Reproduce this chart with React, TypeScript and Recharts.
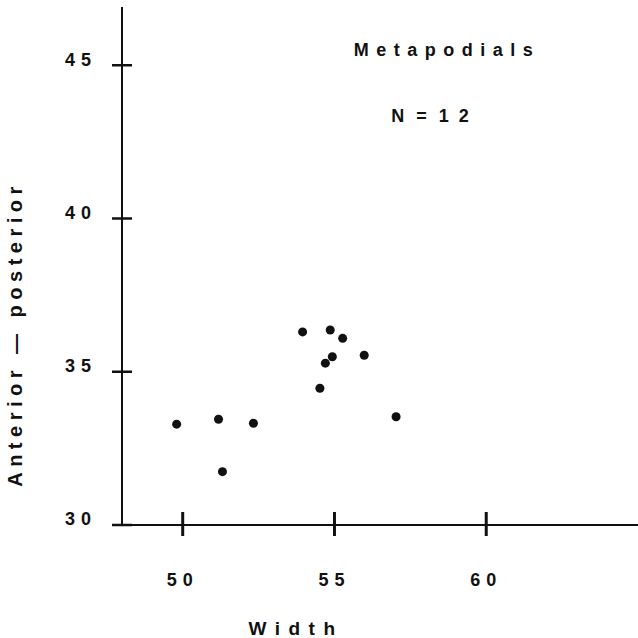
// App.tsx — metapodial measurements scatter (width vs anterior-posterior)

import { ScatterChart, Scatter, XAxis, YAxis } from "recharts";

const widths = [49.8, 51.18, 51.31, 52.33, 53.95, 54.86, 55.27, 54.93, 54.7, 54.52, 55.98, 57.03];
const apDepths = [33.29, 33.45, 31.74, 33.32, 36.3, 36.36, 36.09, 35.49, 35.28, 34.46, 35.54, 33.53];
const xTicks = [50, 55, 60];
const yTicks = [30, 35, 40, 45];

const points = widths.map((w, i) => ({ width: w, ap: apDepths[i] }));

const INK = "#111";
const FONT = "'Liberation Sans', Arial, sans-serif";

const YTick = (props: { x?: number; y?: number; payload?: { value: number } }) => {
  const { x = 0, y = 0, payload } = props;
  return (
    <g>
      <line x1={x - 10} x2={x + 10} y1={y} y2={y} stroke={INK} strokeWidth={2.5} />
      <text
        x={x - 25}
        y={y - 6}
        dy="0.36em"
        textAnchor="end"
        fill={INK}
        fontFamily={FONT}
        fontWeight="bold"
        fontSize={18}
        letterSpacing={6}
      >
        {payload?.value}
      </text>
    </g>
  );
};

const XTick = (props: { x?: number; y?: number; payload?: { value: number } }) => {
  const { x = 0, y = 0, payload } = props;
  return (
    <g>
      <line x1={x} x2={x} y1={y - 13} y2={y + 11} stroke={INK} strokeWidth={3} />
      <text
        x={x}
        y={y + 55}
        dy="0.36em"
        textAnchor="middle"
        fill={INK}
        fontFamily={FONT}
        fontWeight="bold"
        fontSize={18}
        letterSpacing={6}
      >
        {payload?.value}
      </text>
    </g>
  );
};

export default function App() {
  return (
    <div style={{ position: "absolute", left: 0, top: 0, width: 638, height: 638, background: "#fff" }}>
      <ScatterChart width={638} height={638} margin={{ top: 7, right: 0, bottom: 73, left: 62 }}>
        <XAxis
          type="number"
          dataKey="width"
          domain={[48, 65]}
          ticks={xTicks}
          height={40}
          tickSize={0}
          tickMargin={0}
          tickLine={false}
          axisLine={{ stroke: INK, strokeWidth: 2 }}
          tick={<XTick />}
          interval={0}
          allowDataOverflow
        />
        <YAxis
          type="number"
          dataKey="ap"
          domain={[30, 46.9]}
          ticks={yTicks}
          width={60}
          tickSize={0}
          tickMargin={0}
          tickLine={false}
          axisLine={{ stroke: INK, strokeWidth: 2 }}
          tick={<YTick />}
          interval={0}
          allowDataOverflow
        />
        <Scatter data={points} fill={INK} shape="circle" isAnimationActive={false} />
      </ScatterChart>

      {/* titles and axis names */}
      <div
        style={{
          position: "absolute",
          left: 447,
          top: 50,
          transform: "translate(-50%, -50%)",
          fontFamily: FONT,
          fontWeight: "bold",
          fontSize: 18,
          letterSpacing: 7.5,
          whiteSpace: "nowrap",
          color: INK,
        }}
      >
        Metapodials
      </div>
      <div
        style={{
          position: "absolute",
          left: 435,
          top: 116,
          transform: "translate(-50%, -50%)",
          fontFamily: FONT,
          fontWeight: "bold",
          fontSize: 18,
          letterSpacing: 10,
          wordSpacing: -13,
          whiteSpace: "nowrap",
          color: INK,
        }}
      >
        N = 12
      </div>
      <div
        style={{
          position: "absolute",
          left: 296,
          top: 629,
          transform: "translate(-50%, -50%)",
          fontFamily: FONT,
          fontWeight: "bold",
          fontSize: 19,
          letterSpacing: 8.5,
          whiteSpace: "nowrap",
          color: INK,
        }}
      >
        Width
      </div>
      <div
        style={{
          position: "absolute",
          left: 15,
          top: 334,
          transform: "translate(-50%, -50%) rotate(-90deg)",
          fontFamily: FONT,
          fontWeight: "bold",
          fontSize: 20,
          letterSpacing: 5.5,
          whiteSpace: "nowrap",
          color: INK,
        }}
      >
        Anterior — posterior
      </div>
    </div>
  );
}
